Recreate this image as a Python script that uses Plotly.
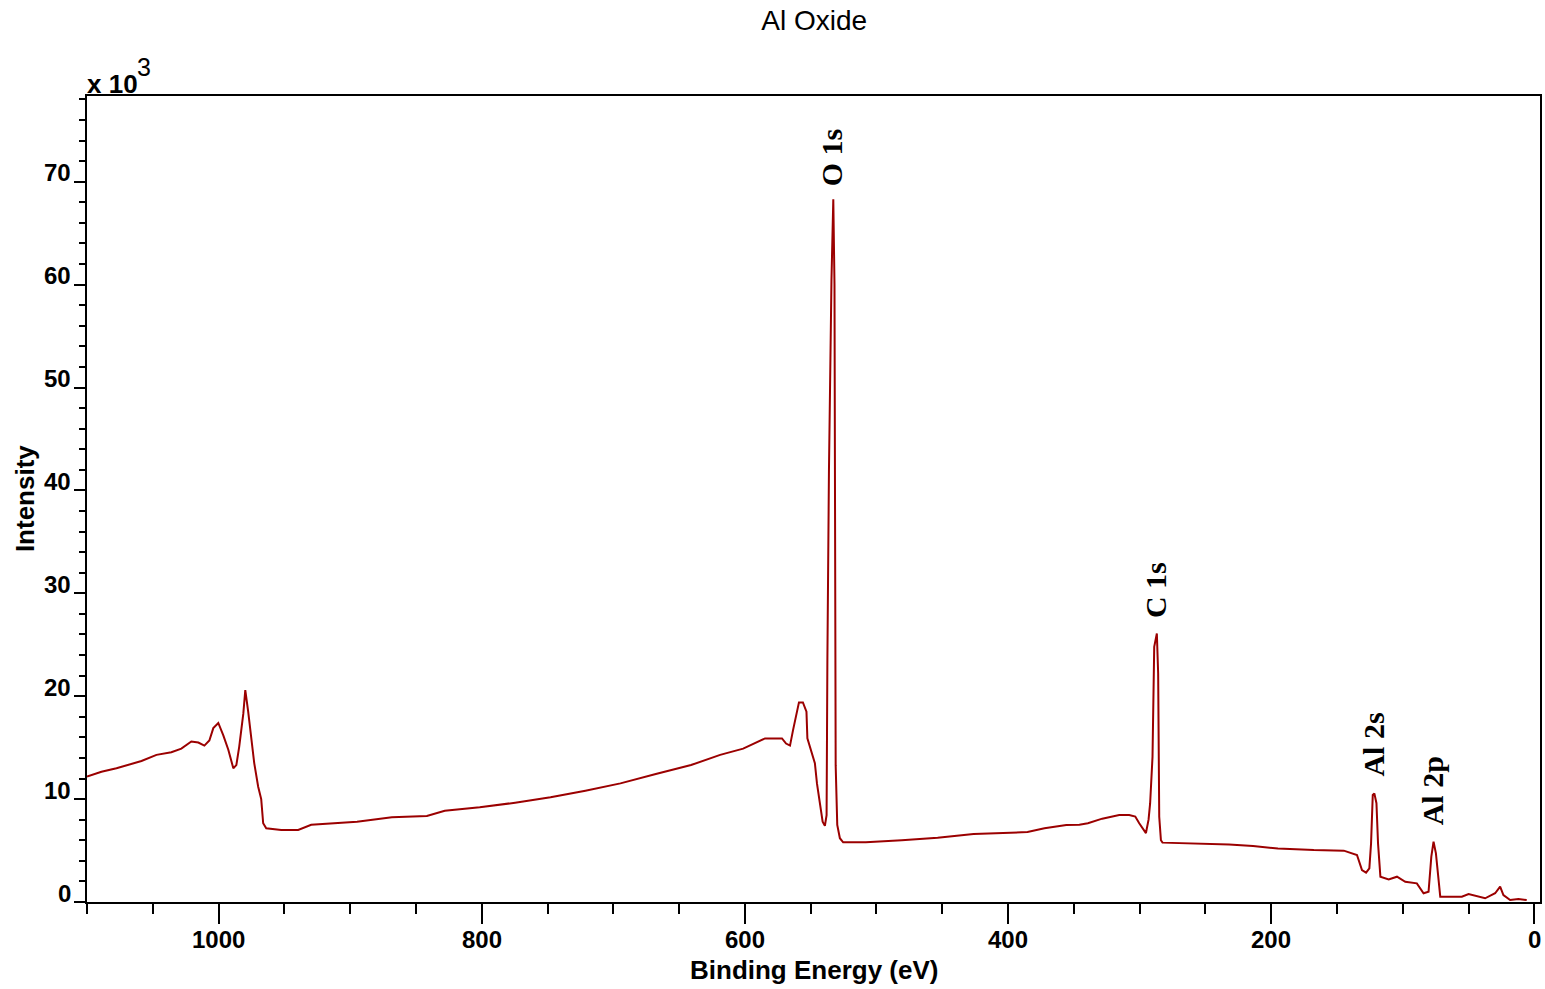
import plotly.graph_objects as go

# Survey spectrum values (binding energy in eV, intensity in counts)
binding_energy = [
    1100.0, 1089.0, 1077.6, 1066.2, 1058.6, 1047.2, 1035.9, 1028.3, 1020.7, 1015.4,
    1010.8, 1007.0, 1004.0, 1000.2, 996.4, 992.6, 988.8, 986.5, 984.3, 981.2,
    979.7, 977.5, 975.2, 972.9, 969.9, 967.6, 966.1, 963.8, 952.4, 939.5,
    929.6, 914.5, 899.4, 894.8, 868.3, 841.7, 828.1, 801.5, 774.6, 747.7,
    721.2, 694.6, 667.7, 640.9, 618.8, 601.3, 584.7, 571.8, 568.7, 565.7,
    563.4, 558.9, 555.9, 553.2, 552.5, 549.3, 546.8, 545.2, 543.0, 540.9,
    539.2, 537.9, 537.3, 536.1, 534.2, 532.8, 531.9, 531.0, 529.8, 527.8,
    525.3, 508.1, 480.8, 453.5, 426.2, 398.9, 385.2, 372.3, 355.7, 345.8,
    339.3, 328.4, 315.5, 307.9, 303.3, 300.3, 295.2, 293.2, 292.0, 290.2,
    288.9, 286.9, 285.9, 285.1, 283.8, 282.6, 263.1, 232.0, 213.8, 194.9,
    167.6, 144.8, 134.8, 131.0, 127.9, 125.4, 124.1, 122.8, 121.6, 120.0,
    118.8, 117.0, 110.7, 104.4, 98.1, 89.3, 84.2, 80.4, 78.3, 76.6,
    74.8, 73.3, 71.5, 55.1, 50.0, 37.4, 29.8, 26.0, 23.5, 18.4,
    12.1, 5.8,
]
intensity = [
    12200, 12650, 13000, 13400, 13700, 14300, 14550, 14900, 15600, 15500,
    15200, 15700, 16900, 17400, 16200, 14800, 13000, 13300, 15100, 18300,
    20600, 18500, 15700, 13500, 11200, 10000, 7650, 7160, 7000, 7000,
    7500, 7600, 7700, 7800, 8230, 8360, 8870, 9200, 9650, 10170,
    10820, 11530, 12440, 13310, 14300, 14900, 15900, 15900, 15400, 15200,
    16700, 19400, 19400, 18500, 15900, 14500, 13500, 11500, 9600, 7800,
    7400, 8450, 23500, 42000, 60400, 68300, 60000, 13300, 7500, 6200,
    5800, 5800, 6000, 6250, 6600, 6770, 6800, 7160, 7480, 7500,
    7650, 8100, 8450, 8450, 8300, 7650, 6700, 8000, 9600, 14100,
    24800, 26100, 22200, 8300, 6000, 5770, 5700, 5600, 5440, 5200,
    5050, 4990, 4570, 3100, 2850, 3270, 5700, 10400, 10560, 9600,
    5700, 2460, 2200, 2460, 1970, 1810, 850, 1000, 4400, 5860,
    4730, 2620, 520, 520, 780, 360, 850, 1490, 680, 190,
    290, 190,
]

# Peak labels
peak_labels = ["O 1s", "C 1s", "Al 2s", "Al 2p"]
peak_label_x = [534.3, 288.4, 122.2, 77.4]
peak_label_y = [72400, 30300, 15260, 10800]

# Axis ticks
y_tick_vals = [0, 10000, 20000, 30000, 40000, 50000, 60000, 70000]
y_tick_text = ["0", "10", "20", "30", "40", "50", "60", "70"]
x_tick_vals = [1000, 800, 600, 400, 200, 0]
x_tick_text = ["1000", "800", "600", "400", "200", "0"]

BOLD_SANS = dict(family="Liberation Sans", size=24, color="black", weight="bold")

fig = go.Figure()
fig.add_trace(go.Scatter(
    x=binding_energy, y=intensity, mode="lines",
    line=dict(color="#9b0000", width=2),
    showlegend=False, hoverinfo="x+y",
))

annotations = []
for lbl, lx, ly in zip(peak_labels, peak_label_x, peak_label_y):
    annotations.append(dict(
        x=lx, y=ly, xref="x", yref="y", text=lbl, showarrow=False,
        textangle=-90, xanchor="center", yanchor="middle",
        font=dict(family="Liberation Serif", size=30, color="black", weight="bold"),
    ))
for v, t in zip(y_tick_vals, y_tick_text):
    annotations.append(dict(
        x=0, y=v, xref="paper", yref="y", text=t, showarrow=False,
        xanchor="right", yanchor="middle", xshift=-14, yshift=9,
        font=BOLD_SANS,
    ))
for v, t in zip(x_tick_vals, x_tick_text):
    annotations.append(dict(
        x=v, y=0, xref="x", yref="paper", text=t, showarrow=False,
        xanchor="center", yanchor="middle", yshift=-37,
        font=BOLD_SANS,
    ))
# multiplier "x 10^3"
annotations.append(dict(
    x=0, y=1, xref="paper", yref="paper", text="x 10", showarrow=False,
    xanchor="left", yanchor="bottom", xshift=-2, yshift=-5,
    font=dict(family="Liberation Sans", size=26, color="black", weight="bold"),
))
annotations.append(dict(
    x=0, y=1, xref="paper", yref="paper", text="3", showarrow=False,
    xanchor="left", yanchor="middle", xshift=48, yshift=29,
    font=dict(family="Liberation Sans", size=25, color="black"),
))
annotations.append(dict(
    x=0.5, y=-0.0844, xref="paper", yref="paper", text="Binding Energy (eV)",
    showarrow=False, xanchor="center", yanchor="middle",
    font=dict(family="Liberation Sans", size=26, color="black", weight="bold"),
))
annotations.append(dict(
    x=-0.0426, y=0.5, xref="paper", yref="paper", text="Intensity",
    showarrow=False, xanchor="center", yanchor="middle", textangle=-90,
    font=dict(family="Liberation Sans", size=26, color="black", weight="bold"),
))

fig.update_layout(
    width=1545, height=989,
    margin=dict(l=87, r=3, t=96, b=87),
    paper_bgcolor="white", plot_bgcolor="white",
    title=dict(text="Al Oxide", x=0.527, xanchor="center", y=1 - 20 / 989,
               yanchor="middle", yref="container",
               font=dict(family="Liberation Sans", size=28, color="black")),
    annotations=annotations,
    xaxis=dict(
        range=[1100, -4.3], showgrid=False, zeroline=False,
        showline=True, linecolor="black", linewidth=2, mirror=True,
        ticks="outside", ticklen=20, tickwidth=2, tickcolor="black",
        tickvals=x_tick_vals, showticklabels=False,
        minor=dict(ticks="outside", ticklen=10, tickwidth=2, tickcolor="black",
                   dtick=50, tick0=0),
    ),
    yaxis=dict(
        range=[0, 78330], showgrid=False, zeroline=False,
        showline=True, linecolor="black", linewidth=2, mirror=True,
        ticks="outside", ticklen=11, tickwidth=2, tickcolor="black",
        tickvals=y_tick_vals, showticklabels=False,
        minor=dict(ticks="outside", ticklen=6, tickwidth=2, tickcolor="black",
                   dtick=2000, tick0=0),
    ),
)

fig.write_html("out.html")
